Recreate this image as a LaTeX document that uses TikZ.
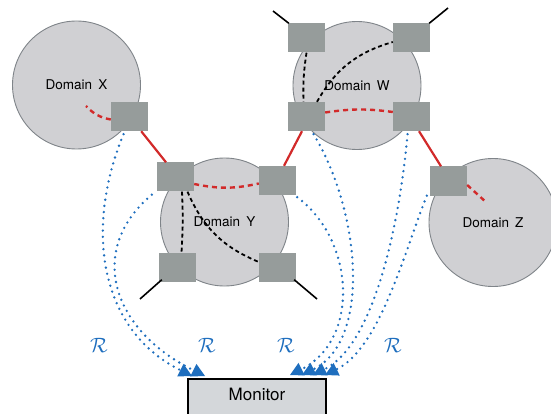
\documentclass[tikz,border=0pt]{standalone}
\usepackage{fontspec}
\setmainfont{TeX Gyre Heros}
\usetikzlibrary{arrows.meta}
\definecolor{domfill}{HTML}{D0D0D3}
\definecolor{domline}{HTML}{7F8489}
\definecolor{routfill}{HTML}{969C9B}
\definecolor{linkred}{HTML}{D22A2A}
\definecolor{monblue}{HTML}{1E6EBE}
\definecolor{monfill}{HTML}{D4D7DA}
\tikzset{
  domnode/.style={circle, draw=domline, line width=0.9pt, fill=domfill, minimum size=128pt, inner sep=0pt, font=\fontsize{13.5}{15}\selectfont},
  router/.style={rectangle, fill=routfill, minimum width=37pt, minimum height=29pt, inner sep=0pt},
  monitorbox/.style={rectangle, draw=black, line width=2.4pt, fill=monfill, minimum width=138pt, minimum height=44pt, anchor=north, text depth=14pt, font=\fontsize{17}{19}\selectfont},
  redlink/.style={draw=linkred, line width=2.2pt},
  reddash/.style={draw=linkred, line width=2.4pt, dash pattern=on 5pt off 4pt},
  blackdash/.style={draw=black, line width=1.8pt, dash pattern=on 4pt off 3pt},
  stub/.style={draw=black, line width=1.6pt},
  report/.style={draw=monblue, line width=2.6pt, line cap=round, dash pattern=on 0pt off 6.2pt, -{Triangle[length=13pt,width=14pt,line width=0pt]}},
  rlabel/.style={text=monblue, font=\fontsize{21}{23}\selectfont, inner sep=0pt}
}
\begin{document}
\begin{tikzpicture}[x=1pt,y=-1pt]
\useasboundingbox (0,0) rectangle (551,414);
\clip (0,0) rectangle (551,414);
% domains
\node[domnode] (DX) at (76.5,85) {Domain\hspace{0.45em}X};
\node[domnode] (DW) at (357,85.5) {Domain\hspace{0.45em}W};
\node[domnode] (DY) at (224.5,222) {Domain\hspace{0.45em}Y};
\node[domnode] (DZ) at (493,222.5) {Domain\hspace{0.45em}Z};
% routers
\node[router] (X1) at (129.5,116.5) {};
\node[router] (Y1) at (175.5,177) {};
\node[router] (Y2) at (277.5,180.5) {};
\node[router] (Y3) at (177.5,267) {};
\node[router] (Y4) at (277.5,267) {};
\node[router] (W1) at (306.5,38) {};
\node[router] (W2) at (411.5,38) {};
\node[router] (W3) at (306.5,116.5) {};
\node[router] (W4) at (411.5,116.5) {};
\node[router] (Z1) at (448.5,181) {};
% free ends
\coordinate (xin) at (86,106);
\coordinate (zin) at (487,203);
\coordinate (y3out) at (140,299);
\coordinate (y4out) at (317,299);
\coordinate (w1out) at (273,11);
\coordinate (w2out) at (448,8);
% monitor
\node[monitorbox] (M) at (257,378) {Monitor};
% stubs
\draw[stub] ([shift={(3pt,2pt)}]Y3.south west) -- (y3out);
\draw[stub] ([shift={(-2pt,2pt)}]Y4.south east) -- (y4out);
\draw[stub] ([shift={(1pt,0pt)}]W1.north west) -- (w1out);
\draw[stub] ([shift={(-1pt,0pt)}]W2.north east) -- (w2out);
% inter-domain links
\draw[redlink] ([xshift=-7pt]X1.south east) -- ([xshift=-9.5pt]Y1.north);
\draw[redlink] ([xshift=-4.5pt]W3.south) -- ([xshift=6.5pt]Y2.north);
\draw[redlink] ([xshift=7.5pt]W4.south) -- ([xshift=-7.5pt]Z1.north);
% intra-domain (red dashed)
\draw[reddash] ([yshift=-3pt]X1.west) to[bend left=18] (xin);
\draw[reddash] ([yshift=-7pt]Y1.east) to[bend right=12] ([yshift=-3pt]Y2.west);
\draw[reddash] ([yshift=4pt]W3.east) to[bend left=8] ([yshift=4.5pt]W4.west);
\draw[reddash] ([yshift=-4pt]Z1.east) -- (zin);
% intra-domain (black dashed)
\draw[blackdash] ([xshift=0pt]W1.south) to[bend right=5] ([xshift=-3pt]W3.north);
\draw[blackdash] ([xshift=10.5pt]W3.north) to[bend left=22] ([yshift=-4pt]W2.west);
\draw[blackdash] ([xshift=6.5pt]Y1.south) to[bend left=3] ([xshift=4pt]Y3.north);
\draw[blackdash] ([xshift=12pt]Y1.south) to[bend right=22] ([yshift=5pt]Y4.west);
% reports to monitor
\draw[report] ([shift={(-6pt,-3pt)}]X1.south) .. controls (84,230) and (100,330) .. ([shift={(-65pt,2pt)}]M.north);
\draw[report] ([shift={(-5pt,-3pt)}]Y1.south west) .. controls (86,250) and (112,330) .. ([shift={(-52pt,2pt)}]M.north);
\draw[report] ([shift={(1pt,-2pt)}]Y2.south east) .. controls (355,240) and (360,340) .. ([shift={(33pt,3pt)}]M.north);
\draw[report] ([shift={(7pt,-3pt)}]W3.south) .. controls (360,210) and (372,340) .. ([shift={(45pt,3pt)}]M.north);
\draw[report] ([shift={(-4pt,-3pt)}]W4.south) .. controls (400,220) and (375,344) .. ([shift={(56pt,3pt)}]M.north);
\draw[report] ([shift={(-3pt,0pt)}]Z1.south west) .. controls (405,250) and (380,348) .. ([shift={(68pt,3pt)}]M.north);
% labels
\node[rlabel] (R1) at (99,345) {$\mathcal{R}$};
\node[rlabel] (R2) at (207,345) {$\mathcal{R}$};
\node[rlabel] (R3) at (286,345) {$\mathcal{R}$};
\node[rlabel] (R4) at (393,345) {$\mathcal{R}$};
\end{tikzpicture}
\end{document}
